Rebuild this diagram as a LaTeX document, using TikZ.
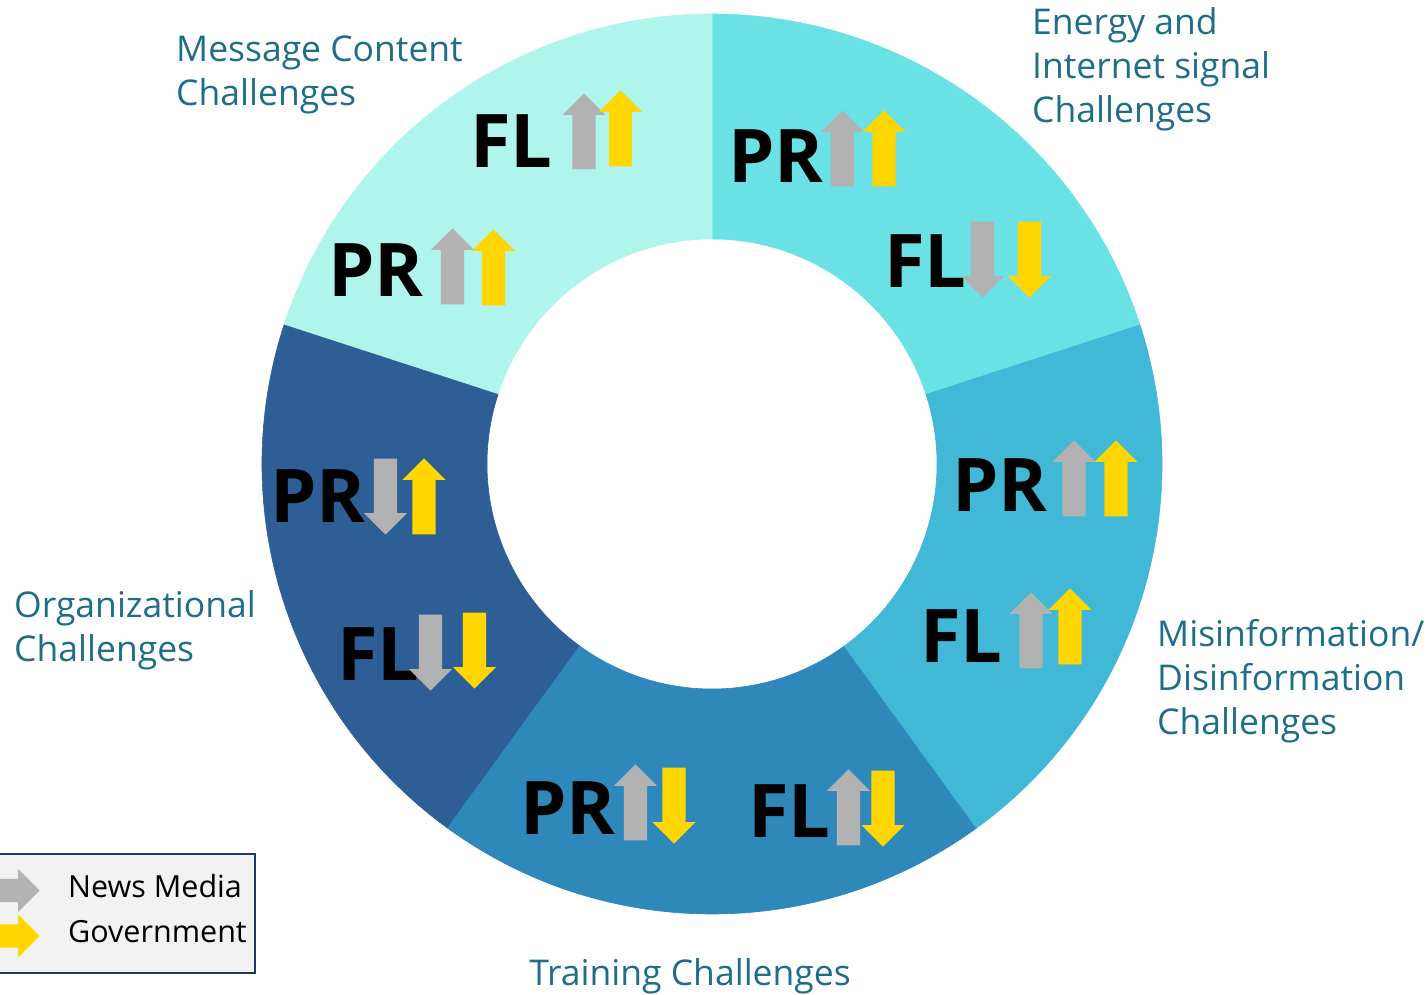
\documentclass[tikz,border=0pt]{standalone}
\usepackage{fontspec}
\setmainfont{Open Sans}
\usetikzlibrary{shapes.arrows}

\definecolor{segmsg}{HTML}{B0F5EC}
\definecolor{segnrg}{HTML}{6AE2E5}
\definecolor{segmis}{HTML}{40B8D6}
\definecolor{segtrn}{HTML}{2E89BA}
\definecolor{segorg}{HTML}{2E5E96}
\definecolor{labcol}{HTML}{1E6E8A}
\definecolor{newsgray}{HTML}{B2B2B2}
\definecolor{govyellow}{HTML}{FFD600}
\definecolor{legframe}{HTML}{203864}
\definecolor{legfill}{HTML}{F2F2F2}

\begin{document}
\begin{tikzpicture}[
  x=1pt, y=1pt,
  tag/.style    = {font=\fontsize{74}{80}\selectfont\bfseries, anchor=base west, inner sep=0pt},
  lbl/.style    = {font=\fontsize{35.5}{44}\selectfont, text=labcol, align=left, anchor=base west, inner sep=0pt},
  legtxt/.style = {font=\fontsize{30.5}{44}\selectfont, anchor=base west, inner sep=0pt},
  blk/.style    = {single arrow, inner sep=11.5, minimum height=76, minimum width=43,
                   single arrow head extend=10, single arrow tip angle=90, anchor=tip},
  ptup/.style   = {blk, shape border rotate=90},
  ptdown/.style = {blk, shape border rotate=270},
  news/.style   = {fill=newsgray},
  gov/.style    = {fill=govyellow},
]

\clip (0,0) rectangle (1427,994);

%% ── Ring: five sectors of 72° ─────────────────────────────────────────────
\def\Ro{450}   % outer radius
\def\Ri{225}   % inner radius
\begin{scope}[shift={(712,530)}]
  % Energy and Internet signal
  \filldraw[segnrg, line width=0.6] (18:\Ro) arc[start angle=18, end angle=90, radius=\Ro]
    -- (90:\Ri) arc[start angle=90, end angle=18, radius=\Ri] -- cycle;
  % Message Content
  \filldraw[segmsg, line width=0.6] (90:\Ro) arc[start angle=90, end angle=162, radius=\Ro]
    -- (162:\Ri) arc[start angle=162, end angle=90, radius=\Ri] -- cycle;
  % Organizational
  \filldraw[segorg, line width=0.6] (162:\Ro) arc[start angle=162, end angle=234, radius=\Ro]
    -- (234:\Ri) arc[start angle=234, end angle=162, radius=\Ri] -- cycle;
  % Training
  \filldraw[segtrn, line width=0.6] (234:\Ro) arc[start angle=234, end angle=306, radius=\Ro]
    -- (306:\Ri) arc[start angle=306, end angle=234, radius=\Ri] -- cycle;
  % Misinformation / Disinformation
  \filldraw[segmis, line width=0.6] (306:\Ro) arc[start angle=306, end angle=378, radius=\Ro]
    -- (378:\Ri) arc[start angle=378, end angle=306, radius=\Ri] -- cycle;
\end{scope}

%% ── Message Content sector (arrows placed by their tips) ──────────────────
\node[tag] (msg-fl) at (470,826) {FL};
\node[ptup, news] (msg-fl-news) at (584,901) {};
\node[ptup, gov]  (msg-fl-gov)  at (620.5,904) {};
\node[tag] (msg-pr) at (328,697) {PR};
\node[ptup, news] (msg-pr-news) at (452.5,766) {};
\node[ptup, gov]  (msg-pr-gov)  at (493.5,765) {};

%% ── Energy and Internet signal sector ─────────────────────────────────────
\node[tag] (nrg-pr) at (728,811) {PR};
\node[ptup, news] (nrg-pr-news) at (842.5,884) {};
\node[ptup, gov]  (nrg-pr-gov)  at (884,884) {};
\node[tag] (nrg-fl) at (884,706) {FL};
\node[ptdown, news] (nrg-fl-news) at (982.5,696) {};
\node[ptdown, gov]  (nrg-fl-gov)  at (1029.5,696) {};

%% ── Misinformation sector ─────────────────────────────────────────────────
\node[tag] (mis-pr) at (952,482) {PR};
\node[ptup, news] (mis-pr-news) at (1074,554) {};
\node[ptup, gov]  (mis-pr-gov)  at (1116,554) {};
\node[tag] (mis-fl) at (920,331) {FL};
\node[ptup, news] (mis-fl-news) at (1031,402) {};
\node[ptup, gov]  (mis-fl-gov)  at (1070,406) {};

%% ── Training sector ───────────────────────────────────────────────────────
\node[tag] (trn-pr) at (520,160) {PR};
\node[ptup, news]  (trn-pr-news) at (635.5,230) {};
\node[ptdown, gov] (trn-pr-gov)  at (674,150) {};
\node[tag] (trn-fl) at (748,157) {FL};
\node[ptup, news]  (trn-fl-news) at (848.5,225) {};
\node[ptdown, gov] (trn-fl-gov)  at (883,147) {};

%% ── Organizational sector ─────────────────────────────────────────────────
\node[tag] (org-pr) at (270,471) {PR};
\node[ptdown, news] (org-pr-news) at (385.5,459) {};
\node[ptup, gov]    (org-pr-gov)  at (424,536) {};
\node[tag] (org-fl) at (337,313) {FL};
\node[ptdown, news] (org-fl-news) at (430.5,303) {};
\node[ptdown, gov]  (org-fl-gov)  at (474.5,305) {};

%% ── Sector captions (anchored on the last line's baseline) ────────────────
\node[lbl] (msg-lbl) at (176,888) {Message Content\\Challenges};
\node[lbl] (nrg-lbl) at (1032,871) {Energy and\\Internet signal\\Challenges};
\node[lbl] (mis-lbl) at (1157,259) {Misinformation/\\Disinformation\\Challenges};
\node[lbl] (org-lbl) at (14,332) {Organizational\\Challenges};
\node[lbl, anchor=base] (trn-lbl) at (690,9) {Training Challenges};

%% ── Legend ────────────────────────────────────────────────────────────────
\node[draw=legframe, line width=2, fill=legfill, minimum width=260, minimum height=119,
      inner sep=0pt] (legend) at (125,80.5) {};
\node[blk, news, minimum height=60, shape border rotate=0] (leg-news-arr) at (40,103.5) {};
\node[blk, gov,  minimum height=60, shape border rotate=0] (leg-gov-arr)  at (40,58) {};
\node[legtxt] (leg-news) at (68,97) {News Media};
\node[legtxt] (leg-gov)  at (68,52) {Government};

\end{tikzpicture}
\end{document}
